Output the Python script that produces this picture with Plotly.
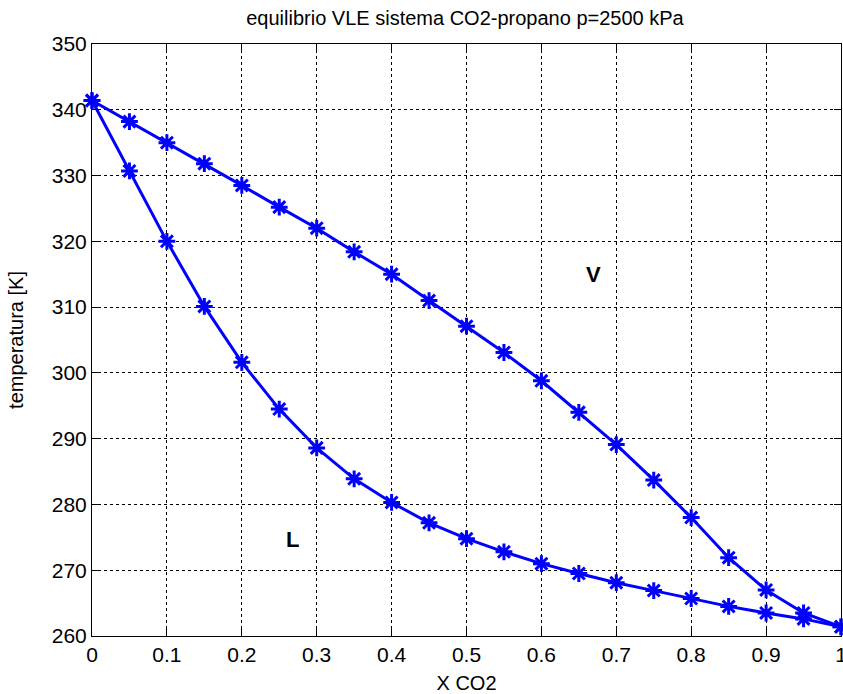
import plotly.graph_objects as go

# Composition (mole fraction CO2)
x_co2 = [0.0, 0.05, 0.10, 0.15, 0.20, 0.25, 0.30, 0.35, 0.40, 0.45, 0.50,
         0.55, 0.60, 0.65, 0.70, 0.75, 0.80, 0.85, 0.90, 0.95, 1.0]
# Bubble (liquid) temperatures [K]
t_liquid = [341.4, 330.7, 320.0, 310.1, 301.6, 294.5, 288.6, 283.9, 280.3, 277.2, 274.8,
            272.8, 271.0, 269.5, 268.1, 266.9, 265.7, 264.5, 263.5, 262.6, 261.4]
# Dew (vapour) temperatures [K]
t_vapour = [341.4, 338.2, 335.0, 331.8, 328.5, 325.2, 322.0, 318.4, 315.0, 311.0, 307.1,
            303.1, 298.8, 294.0, 289.1, 283.7, 278.0, 271.9, 267.0, 263.5, 261.4]

x_ticks = [0, 0.1, 0.2, 0.3, 0.4, 0.5, 0.6, 0.7, 0.8, 0.9, 1]
x_tick_text = ["0", "0.1", "0.2", "0.3", "0.4", "0.5", "0.6", "0.7", "0.8", "0.9", "1"]
y_ticks = [260, 270, 280, 290, 300, 310, 320, 330, 340, 350]

region_labels = ["V", "L"]
region_x = [0.669, 0.268]
region_y = [315.0, 274.7]

FONT = "Liberation Sans, Arial, sans-serif"
BLUE = "#0000ff"

fig = go.Figure()
for ys in (t_liquid, t_vapour):
    fig.add_trace(go.Scatter(
        x=x_co2, y=ys, mode="lines+markers",
        line=dict(color=BLUE, width=3),
        marker=dict(symbol="asterisk-open", size=14, color=BLUE,
                    line=dict(color=BLUE, width=3)),
        showlegend=False, cliponaxis=False,
    ))

for t, xa, ya in zip(region_labels, region_x, region_y):
    fig.add_annotation(x=xa, y=ya, text="<b>%s</b>" % t, showarrow=False,
                       font=dict(family=FONT, size=22, color="black"))

axis_common = dict(
    showline=True, linecolor="black", linewidth=1, mirror="ticks",
    ticks="inside", ticklen=7, tickcolor="black", tickwidth=1,
    showgrid=True, gridcolor="black", griddash="dot", gridwidth=1,
    zeroline=False, tickfont=dict(family=FONT, size=21, color="black"),
    ticklabeloverflow="allow", automargin=False,
)

fig.update_layout(
    width=843, height=694,
    margin=dict(l=92, r=2, t=44, b=58),
    paper_bgcolor="white", plot_bgcolor="white",
    title=dict(text="equilibrio VLE sistema CO2-propano p=2500 kPa",
               x=465 / 843, xanchor="center", y=1 - 18 / 694, yanchor="middle",
               font=dict(family=FONT, size=20, color="black")),
    xaxis=dict(range=[0, 1], tickvals=x_ticks, ticktext=x_tick_text,
               title=dict(text="X CO2", font=dict(family=FONT, size=20, color="black"), standoff=12),
               **axis_common),
    yaxis=dict(range=[260, 350], tickvals=y_ticks,
               title=dict(text="temperatura [K]", font=dict(family=FONT, size=20, color="black"), standoff=22),
               **axis_common),
)

fig.write_html("out.html", config={"displayModeBar": False},
               post_script="document.body.style.margin='0';document.body.style.overflow='hidden';")
